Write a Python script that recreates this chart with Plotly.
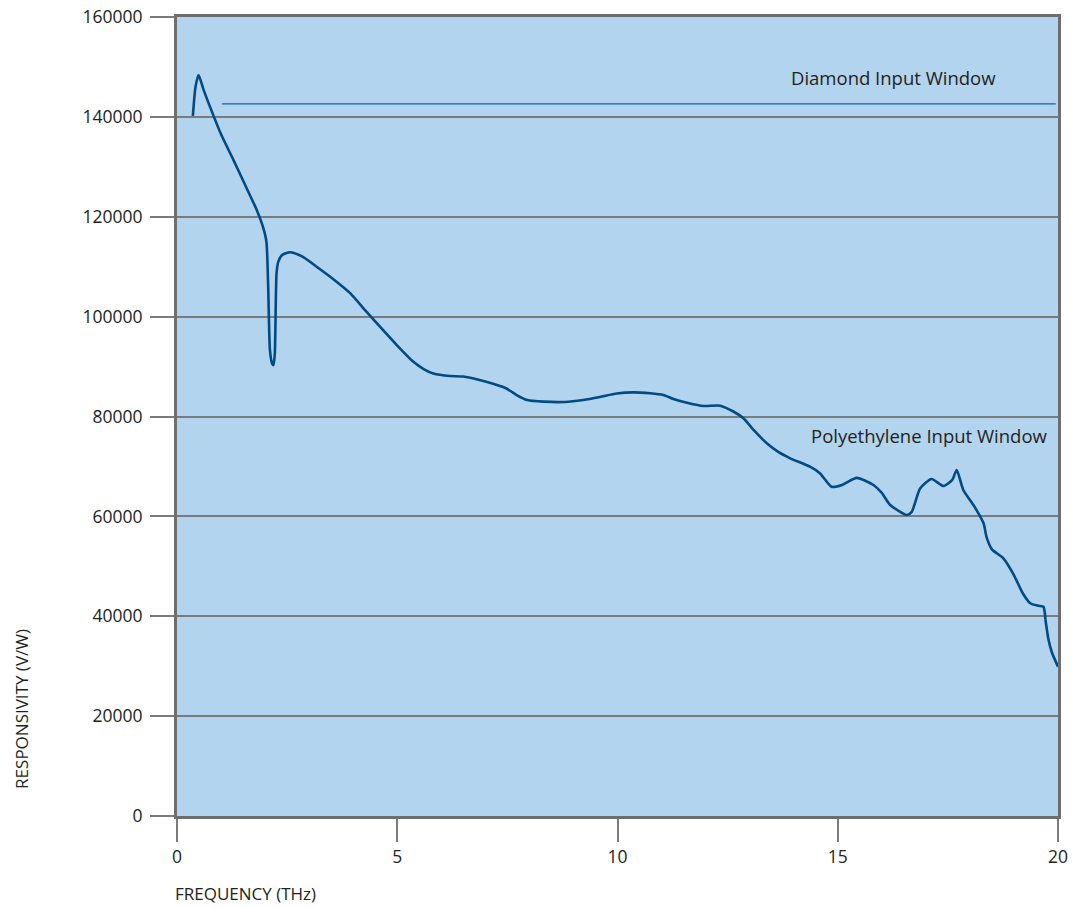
import plotly.graph_objects as go

# Responsivity curve (frequency THz, responsivity V/W)
freq = [0.36, 0.42, 0.49, 0.6, 0.75, 1.0, 1.28, 1.55, 1.81, 1.95, 2.03, 2.07, 2.11, 2.16, 2.19, 2.22, 2.26, 2.3, 2.38,
        2.57, 2.85, 3.17, 3.55, 3.93, 4.3, 4.68, 5.0, 5.36, 5.6, 5.82, 6.2, 6.5, 7.0, 7.48, 7.71, 7.95, 8.32,
        8.8, 9.22, 9.6, 9.98, 10.36, 10.74, 11.04, 11.27, 11.6, 11.95, 12.33, 12.63, 12.86, 13.1, 13.39,
        13.65, 13.92, 14.37, 14.6, 14.86, 15.1, 15.43, 15.81, 16.0, 16.19, 16.57, 16.68, 16.87, 17.13,
        17.4, 17.6, 17.7, 17.85, 18.1, 18.31, 18.38, 18.5, 18.76, 18.99, 19.2, 19.37, 19.55, 19.67, 19.72,
        19.78, 19.86, 20.0]
resp = [140200, 146000, 148400, 145500, 142000, 136500, 131400, 126300, 121350, 118000, 115000, 106000, 93300, 90600, 90300, 92500,
        108700, 111000, 112300, 112900, 112000, 110000, 107500, 104700, 101000, 97300, 94200, 91000, 89500, 88600, 88100, 88000,
        87000, 85600, 84300, 83300, 82970, 82900, 83300, 83900, 84600, 84840, 84640, 84300, 83500, 82700, 82100, 82170,
        81000, 79640, 77200, 74630, 72900, 71630, 69950, 68600, 65940, 66300, 67700, 66280, 64700, 62280, 60270, 60900,
        65580, 67480, 66080, 67300, 69300, 65280, 62000, 58610, 55800, 53400, 51600, 48400, 44600, 42600, 42100, 41900,
        39000, 35500, 32800, 29900]

# Window lines / labels
diamond_x = [1.02, 19.95]
diamond_y = [142600, 142600]
label_diamond = "Diamond Input Window"
label_poly = "Polyethylene Input Window"

x_ticks = [0, 5, 10, 15, 20]
y_ticks = [0, 20000, 40000, 60000, 80000, 100000, 120000, 140000, 160000]

font_family = "Open Sans, Lato, sans-serif"
text_color = "#231f20"
grid_color = "#7b7b7b"

fig = go.Figure()
fig.add_trace(go.Scatter(x=diamond_x, y=diamond_y, mode="lines",
                         line=dict(color="#1a5ea8", width=1.2), hoverinfo="skip", showlegend=False))
fig.add_trace(go.Scatter(x=freq, y=resp, mode="lines",
                         line=dict(color="#004b85", width=2.6, shape="spline", smoothing=0.6),
                         showlegend=False))

fig.add_annotation(x=0.932, y=147800, xref="paper", yref="y", text=label_diamond, showarrow=False,
                   xanchor="right", yanchor="middle", font=dict(size=18.5, color=text_color, family=font_family))
fig.add_annotation(x=0.991, y=76100, xref="paper", yref="y", text=label_poly, showarrow=False,
                   xanchor="right", yanchor="middle", font=dict(size=18.5, color=text_color, family=font_family))
fig.add_annotation(x=-0.176, y=0.134, xref="paper", yref="paper", text="RESPONSIVITY (V/W)", showarrow=False,
                   textangle=-90, xanchor="center", yanchor="middle",
                   font=dict(size=17, color=text_color, family=font_family))
fig.add_annotation(x=-0.0045, y=-0.0964, xref="paper", yref="paper", text="FREQUENCY (THz)", showarrow=False,
                   xanchor="left", yanchor="middle",
                   font=dict(size=17, color=text_color, family=font_family))

fig.update_layout(
    width=1082, height=907,
    margin=dict(l=177, r=24, t=17, b=91, autoexpand=False),
    paper_bgcolor="white", plot_bgcolor="#b3d4ee",
    font=dict(family=font_family, size=17, color=text_color),
    xaxis=dict(range=[0, 20], tickvals=x_ticks, ticks="outside", ticklen=23, tickcolor=grid_color, tickwidth=1.5,
               showgrid=False, zeroline=False, showline=True, mirror=True, linecolor="#6e6e6e", linewidth=3,
               automargin=False, ticklabeloverflow="allow", tickfont=dict(size=17.5, color=text_color)),
    yaxis=dict(range=[0, 160000], tickvals=y_ticks, ticks="outside", ticklen=24, tickcolor=grid_color, tickwidth=1.5,
               showgrid=True, gridcolor=grid_color, gridwidth=1.5, zeroline=False, showline=True, mirror=True,
               linecolor="#6e6e6e", linewidth=3, tickformat="d", automargin=False, ticklabeloverflow="allow",
               ticklabelstandoff=4, tickfont=dict(size=17.5, color=text_color)),
)

fig.write_html("out.html", config={"displayModeBar": False},
               post_script="document.body.style.margin='0';document.body.style.overflow='hidden';")
